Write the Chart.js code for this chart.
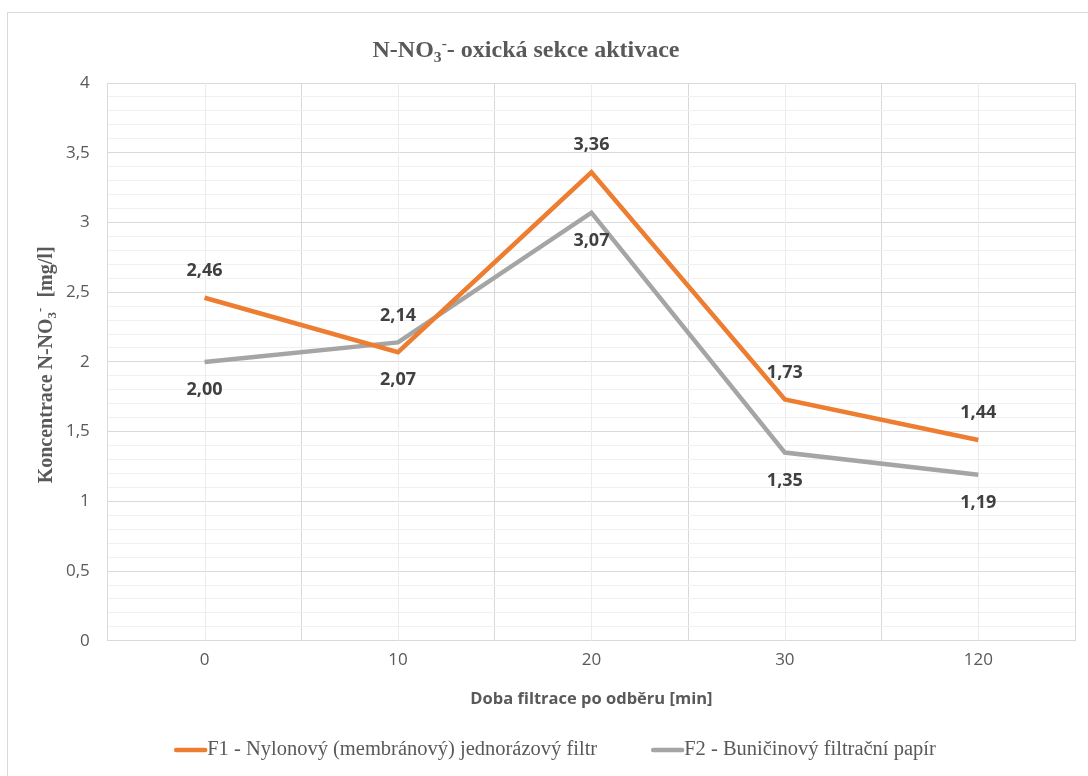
<!DOCTYPE html>
<html>
<head>
<meta charset="utf-8">
<script src="https://cdn.jsdelivr.net/npm/chart.js@4.4.1/dist/chart.umd.min.js"></script>
<style>
    body { margin: 0; background: #fff; overflow: hidden; }
    #wrap { position: relative; width: 1088px; height: 776px; }
    #frame { position: absolute; left: 7px; top: 12px; width: 1120px; height: 800px; border: 1px solid #d9d9d9; box-sizing: border-box; }
    canvas { position: absolute; left: 0; top: 0; }
</style>
</head>
<body>
<div id="wrap">
    <div id="frame"></div>
    <canvas id="chart" width="1088" height="776"></canvas>
</div>
<script>
// data
const categories = ["0", "10", "20", "30", "120"];
const f1Values = [2.46, 2.07, 3.36, 1.73, 1.44];
const f2Values = [2.00, 2.14, 3.07, 1.35, 1.19];
const seriesNames = ["F1 - Nylonový (membránový) jednorázový filtr", "F2 - Buničinový filtrační papír"];
const f1LabelPos = ["top", "bottom", "top", "top", "top"];
const f2LabelPos = ["bottom", "top", "bottom", "bottom", "bottom"];

const textGrey = "#595959";

function fmt(v, digits) {
    return v.toFixed(digits).replace(".", ",");
}

// draws text made of pieces, some of them sub/superscript
function drawRich(ctx, parts, size, family, x, y) {
    let widths = parts.map(p => {
        ctx.font = "bold " + (p.sub || p.sup ? size * 0.65 : size) + "px " + family;
        return ctx.measureText(p.t).width;
    });
    let total = widths.reduce((a, b) => a + b, 0);
    let cx = x - total / 2;
    ctx.textBaseline = "middle";
    ctx.textAlign = "left";
    parts.forEach((p, i) => {
        ctx.font = "bold " + (p.sub || p.sup ? size * 0.65 : size) + "px " + family;
        let dy = p.sub ? size * 0.3 : (p.sup ? -size * 0.3 : 0);
        ctx.fillText(p.t, cx, y + dy);
        cx += widths[i];
    });
}

const textPlugin = {
    id: "textPlugin",
    afterDraw(chart) {
        const ctx = chart.ctx;
        ctx.save();
        ctx.fillStyle = textGrey;
        drawRich(ctx, [{ t: "N-NO" }, { t: "3", sub: true }, { t: "-", sup: true }, { t: "- oxická sekce aktivace" }],
            24, "'Liberation Serif'", 526, 51);
        ctx.translate(47, (chart.chartArea.top + chart.chartArea.bottom) / 2 + 3);
        ctx.rotate(-Math.PI / 2);
        drawRich(ctx, [{ t: "Koncentrace N-NO" }, { t: "3", sub: true }, { t: "-", sup: true }, { t: "  [mg/l]" }],
            20, "'Liberation Serif'", 0, 0);
        ctx.restore();
    }
};

// legend like the spreadsheet one: line sample right against the text
const lineLegend = {
    id: "lineLegend",
    afterDraw(chart) {
        const ctx = chart.ctx;
        const sample = 31, gap = 54;
        ctx.save();
        ctx.font = "20.5px 'Liberation Serif'";
        const items = chart.data.datasets.map(ds => ({ text: ds.label, color: ds.borderColor, w: ctx.measureText(ds.label).width }));
        let total = items.reduce((a, it) => a + sample + 2 + it.w, 0) + gap * (items.length - 1);
        let x = 555 - total / 2;
        const y = 750;
        ctx.textBaseline = "middle";
        ctx.fillStyle = textGrey;
        items.forEach(it => {
            ctx.strokeStyle = it.color;
            ctx.lineWidth = 4.5;
            ctx.lineCap = "round";
            ctx.beginPath();
            ctx.moveTo(x + 2, y);
            ctx.lineTo(x + sample, y);
            ctx.stroke();
            ctx.fillText(it.text, x + sample + 2, y);
            x += sample + 2 + it.w + gap;
        });
        ctx.restore();
    }
};

// lighter vertical lines through the categories
const centerGrid = {
    id: "centerGrid",
    beforeDatasetsDraw(chart) {
        const ctx = chart.ctx;
        const x = chart.scales.x;
        const area = chart.chartArea;
        ctx.save();
        ctx.strokeStyle = "#ececec";
        ctx.lineWidth = 1;
        categories.forEach((c, i) => {
            let px = Math.round(x.getPixelForValue(i)) + 0.5;
            ctx.beginPath();
            ctx.moveTo(px, area.top);
            ctx.lineTo(px, area.bottom);
            ctx.stroke();
        });
        ctx.restore();
    }
};

const valueLabels = {
    id: "valueLabels",
    afterDatasetsDraw(chart) {
        const ctx = chart.ctx;
        ctx.save();
        ctx.font = "bold 18px 'Open Sans'";
        ctx.fillStyle = "#404040";
        ctx.textAlign = "center";
        ctx.textBaseline = "middle";
        chart.data.datasets.forEach((ds, di) => {
            const meta = chart.getDatasetMeta(di);
            meta.data.forEach((pt, i) => {
                let dy = ds.labelPos[i] == "top" ? -27 : 28;
                ctx.fillText(fmt(ds.data[i], 2), pt.x, pt.y + dy);
            });
        });
        ctx.restore();
    }
};

new Chart(document.getElementById("chart"), {
    type: "line",
    data: {
        labels: categories,
        datasets: [
            {
                label: seriesNames[0],
                data: f1Values,
                labelPos: f1LabelPos,
                borderColor: "#ED7D31",
                backgroundColor: "#ED7D31",
                borderWidth: 4.5,
                pointRadius: 0,
                tension: 0
            },
            {
                label: seriesNames[1],
                data: f2Values,
                labelPos: f2LabelPos,
                borderColor: "#A5A5A5",
                backgroundColor: "#A5A5A5",
                borderWidth: 4.5,
                pointRadius: 0,
                tension: 0
            }
        ]
    },
    options: {
        responsive: false,
        animation: false,
        layout: {
            padding: { left: 48, right: 13, top: 83, bottom: 55 }
        },
        scales: {
            x: {
                offset: true,
                grid: {
                    offset: true,
                    color: "#d9d9d9",
                    drawTicks: false
                },
                border: { color: "#d9d9d9" },
                ticks: {
                    color: textGrey,
                    font: { family: "'Open Sans'", size: 17 },
                    padding: 9
                },
                title: {
                    display: true,
                    text: "Doba filtrace po odběru [min]",
                    color: textGrey,
                    font: { family: "'Open Sans'", size: 16.5, weight: "bold" },
                    padding: { top: 10, bottom: 12 }
                }
            },
            y: {
                min: 0,
                max: 4,
                grid: {
                    drawTicks: false,
                    color: ctx => {
                        let v = ctx.tick ? ctx.tick.value : 0;
                        return Math.abs(v * 2 - Math.round(v * 2)) < 1e-6 ? "#d9d9d9" : "#f0f0f0";
                    }
                },
                border: { display: false },
                ticks: {
                    stepSize: 0.1,
                    autoSkip: false,
                    color: textGrey,
                    font: { family: "'Open Sans'", size: 17 },
                    padding: 18,
                    callback: v => Math.abs(v * 2 - Math.round(v * 2)) < 1e-6 ? (Math.round(v * 10) / 10).toString().replace(".", ",") : ""
                }
            }
        },
        plugins: {
            title: { display: false },
            tooltip: { enabled: false },
            legend: { display: false }
        }
    },
    plugins: [centerGrid, valueLabels, textPlugin, lineLegend]
});
</script>
</body>
</html>
